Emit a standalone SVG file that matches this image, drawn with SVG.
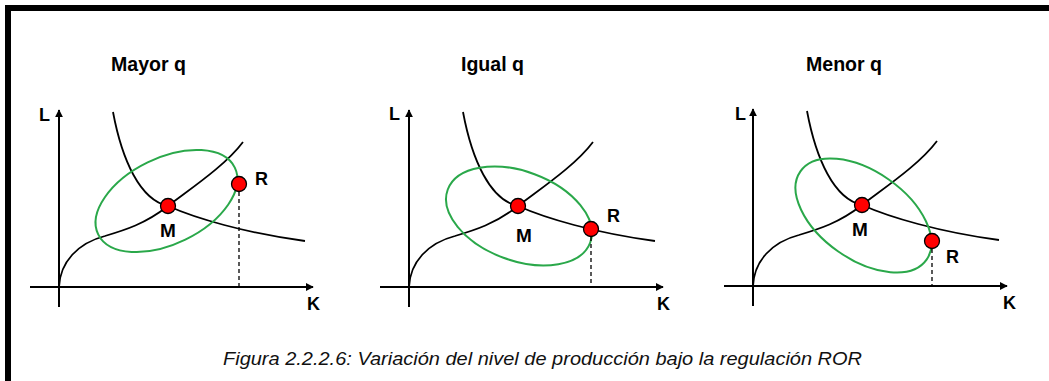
<svg xmlns="http://www.w3.org/2000/svg" width="1049" height="381" viewBox="0 0 1049 381">
<defs>
<marker id="arr" viewBox="0 0 10 10" refX="9" refY="5" markerWidth="4" markerHeight="4" orient="auto" markerUnits="strokeWidth"><path d="M0,0 L10,5 L0,10 Z" fill="#000"/></marker>
<style>
.ax{stroke:#000;stroke-width:2;fill:none}
.cv{stroke:#000;stroke-width:1.8;fill:none}
.el{stroke:#2aa84a;stroke-width:2;fill:none}
.dot{fill:#ff0000;stroke:#000;stroke-width:1.3}
.dash{stroke:#000;stroke-width:1.3;stroke-dasharray:4 3;fill:none}
.t{font-family:"Liberation Sans",Arial,sans-serif;font-weight:bold;fill:#000}
.cap{font-family:"Liberation Sans",Arial,sans-serif;font-style:italic;font-size:19px;fill:#111}
</style>
</defs>
<rect width="1049" height="381" fill="#fff"/>
<path d="M8,381 V8 H1049" stroke="#000" stroke-width="6" fill="none"/>

<g id="panel-mayor">
  <text class="t" x="111" y="71" font-size="20" textLength="75" lengthAdjust="spacingAndGlyphs">Mayor q</text>
  <g id="axes1">
    <line class="ax" x1="59" y1="307" x2="59" y2="110" marker-end="url(#arr)"/>
    <line class="ax" x1="30" y1="287" x2="313" y2="287" marker-end="url(#arr)"/>
    <text class="t" x="39" y="121" font-size="18">L</text>
    <text class="t" x="307" y="310" font-size="18">K</text>
  </g>
  <g id="curves1">
    <path class="cv" d="M113,112 C122,160 140,200 168,206 C195,218 245,233 305,241"/>
    <path class="cv" d="M59,287 C60,262 78,243 105,236 C125,230 145,224 168,206 C190,189 225,166 243,142"/>
    <ellipse class="el" cx="166.5" cy="201" rx="76" ry="43" transform="rotate(-26 166.5 201)"/>
    <line class="dash" x1="239" y1="192" x2="239" y2="287"/>
  </g>
  <g id="M1"><circle class="dot" cx="168" cy="206" r="7.5"/><text class="t" x="160" y="237" font-size="19">M</text></g>
  <g id="R1"><circle class="dot" cx="239" cy="184" r="7.5"/><text class="t" x="255" y="185" font-size="18">R</text></g>
</g>

<g id="panel-igual">
  <text class="t" x="461" y="71" font-size="20" textLength="63" lengthAdjust="spacingAndGlyphs">Igual q</text>
  <g id="axes2" transform="translate(350,0)">
    <line class="ax" x1="59" y1="307" x2="59" y2="110" marker-end="url(#arr)"/>
    <line class="ax" x1="30" y1="287" x2="313" y2="287" marker-end="url(#arr)"/>
    <text class="t" x="39" y="120" font-size="18">L</text>
    <text class="t" x="307" y="310" font-size="18">K</text>
  </g>
  <g id="curves2">
    <g transform="translate(350,0)">
      <path class="cv" d="M113,112 C122,160 140,200 168,206 C195,218 245,233 305,241"/>
      <path class="cv" d="M59,287 C60,262 78,243 105,236 C125,230 145,224 168,206 C190,189 225,166 243,142"/>
    </g>
    <ellipse class="el" cx="519" cy="216" rx="76" ry="44.6" transform="rotate(20.4 519 216)"/>
    <line class="dash" x1="591" y1="237" x2="591" y2="287"/>
  </g>
  <g id="M2"><circle class="dot" cx="518" cy="206" r="7.5"/><text class="t" x="516" y="242" font-size="19">M</text></g>
  <g id="R2"><circle class="dot" cx="591" cy="229" r="7.5"/><text class="t" x="607" y="222" font-size="18">R</text></g>
</g>

<g id="panel-menor">
  <text class="t" x="806" y="71" font-size="20" textLength="76" lengthAdjust="spacingAndGlyphs">Menor q</text>
  <g id="axes3" transform="translate(694,-1)">
    <line class="ax" x1="59" y1="307" x2="59" y2="110" marker-end="url(#arr)"/>
    <line class="ax" x1="30" y1="287" x2="313" y2="287" marker-end="url(#arr)"/>
  </g>
  <text class="t" x="735" y="120" font-size="18">L</text>
  <text class="t" x="1003" y="309" font-size="18">K</text>
  <g id="curves3">
    <g transform="translate(694,-1)">
      <path class="cv" d="M113,112 C122,160 140,200 168,206 C195,218 245,233 305,241"/>
      <path class="cv" d="M59,287 C60,262 78,243 105,236 C125,230 145,224 168,206 C190,189 225,166 243,142"/>
    </g>
    <ellipse class="el" cx="863.5" cy="215.5" rx="77" ry="44" transform="rotate(35 863.5 215.5)"/>
    <line class="dash" x1="932" y1="249" x2="932" y2="286"/>
  </g>
  <g id="M3"><circle class="dot" cx="862" cy="205" r="7.5"/><text class="t" x="852" y="236" font-size="19">M</text></g>
  <g id="R3"><circle class="dot" cx="932" cy="241" r="7.5"/><text class="t" x="946" y="263" font-size="18">R</text></g>
</g>

<text id="caption" class="cap" x="223" y="365" textLength="639" lengthAdjust="spacingAndGlyphs">Figura 2.2.2.6: Variación del nivel de producción bajo la  regulación ROR</text>
</svg>
